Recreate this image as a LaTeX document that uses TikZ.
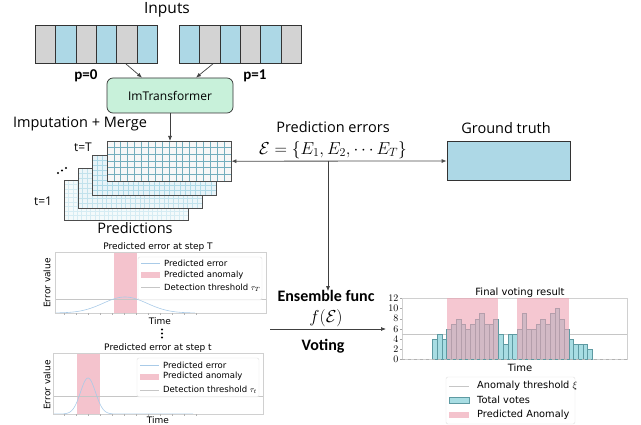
\documentclass[tikz,border=0pt]{standalone}
\usepackage{fontspec}
\setmainfont{Open Sans}
\newfontfamily\calfont{Carlito}
\newfontfamily\plotfont{DejaVu Sans}
\usepackage{amsmath}
\usepackage{amssymb}
\usetikzlibrary{positioning,arrows.meta}

\definecolor{cellgray}{HTML}{D3D3D3}
\definecolor{cellblue}{HTML}{ADD8E6}
\definecolor{mint}{HTML}{C8F1DA}
\definecolor{gridteal}{HTML}{74AEBD}
\definecolor{anompink}{HTML}{F4C3CD}
\definecolor{overpink}{HTML}{EEA2B2}
\definecolor{errblue}{HTML}{A9CBE8}
\definecolor{voteteal}{HTML}{A8DDE3}
\definecolor{voteedge}{HTML}{5E9AA2}
\definecolor{framegray}{HTML}{D0D0D0}

\newcommand{\pxfont}[1]{\fontsize{#1}{#1}\selectfont}

% one layer of the prediction stack: x0, y0, fill, grid colour, columns, rows
\newcommand{\predlayer}[6]{%
  \begin{scope}[shift={(#1,#2)}]
    \fill[#3] (0,0) rectangle (124,40);
    \foreach \i in {1,...,#5} \draw[#4, line width=0.6pt] ({\i*124/#5},0) -- ({\i*124/#5},40);
    \foreach \j in {1,...,#6} \draw[#4, line width=0.6pt] (0,{\j*40/#6}) -- (124,{\j*40/#6});
    \draw[black!70, line width=0.7pt] (0,0) rectangle (124,40);
  \end{scope}}

\begin{document}
\begin{tikzpicture}[x=1pt,y=-1pt,
    lbl/.style={font=\pxfont{14.5}},
    boldlbl/.style={font=\calfont\bfseries\pxfont{16}},
    cell/.style={draw=black!80, line width=0.7pt, minimum width=20.33pt, minimum height=38pt, inner sep=0pt, anchor=north west},
    arr/.style={-{Latex[length=5pt,width=4pt]}, black!75, line width=0.7pt},
    ptxt/.style={font=\plotfont\pxfont{9}},
    ltxt/.style={font=\plotfont\pxfont{8.5}, anchor=west, inner sep=0pt},
    vtxt/.style={font=\plotfont\pxfont{9.8}, anchor=west, inner sep=0pt},
    plotframe/.style={draw=framegray, line width=0.5pt},
    legbox/.style={draw=gray!25, fill=white, fill opacity=0.8, rounded corners=2pt, line width=0.4pt},
    votebar/.style={fill=voteteal, draw=voteedge, line width=0.4pt}]
  \useasboundingbox (0,0) rectangle (641,425);

  % inputs
  \node[font=\pxfont{15.5}] (inputs) at (167,10) {Inputs};
  \foreach \c [count=\i from 0] in {cellgray,cellblue,cellgray,cellblue,cellgray,cellblue}
    \node[cell, fill=\c] at ({35+\i*20.33},25) {};
  \foreach \c [count=\i from 0] in {cellblue,cellgray,cellblue,cellgray,cellblue,cellgray}
    \node[cell, fill=\c] at ({179+\i*20.33},25) {};
  \node[draw=black!80, line width=0.8pt, minimum width=122pt, minimum height=38pt, inner sep=0pt, anchor=north west] (inL) at (35,25) {};
  \node[draw=black!80, line width=0.8pt, minimum width=122pt, minimum height=38pt, inner sep=0pt, anchor=north west] (inR) at (179,25) {};
  \node[font=\calfont\bfseries\pxfont{15}] (pzero) at (86,76) {p=0};
  \node[font=\calfont\bfseries\pxfont{15}] (pone) at (255,76) {p=1};

  \node[draw=black!80, line width=0.7pt, fill=mint, rounded corners=6pt, minimum width=126pt, minimum height=35pt, font=\pxfont{12}] (imt) at (170,95.5) {ImTransformer};
  \draw[arr] ([xshift=-32pt]inL.south east) -- ([xshift=-28pt]imt.north);
  \draw[arr] ([xshift=34pt]inR.south west) -- ([xshift=26pt]imt.north);

  % prediction stack
  \node[lbl] (merge) at (80,124) {Imputation + Merge};
  \predlayer{64}{180}{cellblue!14}{cellblue!50}{28}{9}
  \predlayer{78}{168}{cellblue!22}{cellblue!75}{26}{8}
  \predlayer{92}{155}{cellblue!30}{cellblue}{24}{8}
  \predlayer{107}{141}{gray!6}{gridteal}{18}{6}
  \node[minimum width=124pt, minimum height=40pt, inner sep=0pt, anchor=north west] (predT) at (107,141) {};
  \node[font=\pxfont{12}] (tT) at (83,147) {t=T};
  \node[font=\pxfont{12}] (tone) at (43,201) {t=1};
  \foreach \px/\py in {58/173, 62/170.5, 66/168}
    \fill (\px,\py) circle (1.1pt);
  \node[font=\pxfont{14.5}] (preds) at (135,228) {Predictions};
  \draw[arr] (imt.south) -- (imt.south |- predT.north);

  % errors and ground truth
  \node[lbl] (errlbl) at (333,127) {Prediction errors};
  \node[font=\pxfont{17}] (errset) at (333,150) {$\mathcal{E}=\{E_1,E_2,\cdots E_T\}$};
  \node[draw=black!80, line width=0.7pt, fill=cellblue, minimum width=123pt, minimum height=39pt] (gt) at (508.5,161) {};
  \node[lbl] (gtlbl) at (506,128) {Ground truth};
  \draw[{Latex[length=5pt,width=4pt]}-{Latex[length=5pt,width=4pt]}, black!70, line width=0.8pt] (predT.east) -- (gt.west);
  \coordinate (split) at (328,161);
  \node[boldlbl, inner sep=1pt] (ens) at (326,296) {Ensemble func};
  \draw[arr] (split) -- ([yshift=-2pt]split |- ens.north);
  \node[font=\pxfont{18}, inner sep=0pt] (fE) at (326,318) {$f(\mathcal{E})$};
  \coordinate (vstart) at (270,329);
  \coordinate (vend) at (386,329);
  \draw[arr] (vstart) -- (vend);
  \node[boldlbl, inner sep=1pt] (vote) at (323,346) {Voting};

  % predicted error at step T
  \node[ptxt] (titleT) at (158,247) {Predicted error at step T};
  \fill[anompink] (114,252) rectangle (137,313);
  \draw[gray!45, line width=0.4pt] (55,299) -- (266,299);
  \draw[errblue, line width=0.6pt] plot[domain=55:195, samples=80] (\x,{313-16*exp(-((\x-125)^2)/(2*22^2))});
  \draw[plotframe] (55,252) rectangle (266,313);
  \foreach \tx in {64,76,88,100,112,124,136,148,160,172,184,196}
    \draw[gray!60, line width=0.3pt] (\tx,313) -- (\tx,315);
  \draw[legbox] (138,257) rectangle (262,300);
  \draw[errblue, line width=0.6pt] (141,263) -- (160,263);
  \fill[anompink] (141,272) rectangle (160,278);
  \draw[gray!45, line width=0.4pt] (141,287.5) -- (160,287.5);
  \node[ltxt] at (164,263) {Predicted error};
  \node[ltxt] at (164,275) {Predicted anomaly};
  \node[ltxt] at (164,287.5) {Detection threshold $\tau_T$};
  \node[ptxt, rotate=90] (evT) at (47,283) {Error value};
  \node[ptxt] (timeT) at (160,321) {Time};

  \foreach \py in {329.5,333.5,337.5}
    \fill (162,\py) circle (1.1pt);

  % predicted error at step t
  \node[ptxt] (titlet) at (158,348.5) {Predicted error at step t};
  \fill[anompink] (77,353) rectangle (100,414);
  \draw[gray!45, line width=0.4pt] (53,396) -- (263,396);
  \draw[errblue, line width=0.6pt] plot[domain=53:193, samples=140] (\x,{414-36*exp(-((\x-88)^2)/(2*7.5^2))});
  \draw[plotframe] (53,353) rectangle (263,414);
  \foreach \tx in {64,76,88,100,112,124,136,148,160,172,184,196}
    \draw[gray!60, line width=0.3pt] (\tx,414) -- (\tx,416);
  \draw[legbox] (137,358) rectangle (259,397);
  \draw[errblue, line width=0.6pt] (140,365) -- (159,365);
  \fill[anompink] (140,373.5) rectangle (159,379.5);
  \draw[gray!45, line width=0.4pt] (140,390) -- (159,390);
  \node[ltxt] at (163,365) {Predicted error};
  \node[ltxt] at (163,376.5) {Predicted anomaly};
  \node[ltxt] at (163,390) {Detection threshold $\tau_t$};
  \node[ptxt, rotate=90] (evt) at (47,385) {Error value};
  \node[ptxt] (timet) at (158,420) {Time};

  % final voting result
  \node[font=\plotfont\pxfont{10}] (titleV) at (520,293) {Final voting result};
  \draw[plotframe] (402,298.5) rectangle (627,359.3);
  \foreach \v in {0,2,...,12} {
    \draw[gray!70, line width=0.4pt] (400,{359.3-5.07*\v}) -- (402,{359.3-5.07*\v});
    \node[font=\pxfont{10}, anchor=east, inner sep=1pt] at (399.5,{359.3-5.07*\v}) {$\v$};
  }
  \draw[gray!45, line width=0.4pt] (402,334) -- (627,334);
  \foreach \v [count=\i] in {4,5,4,6,7,8,7,6,7,8,9,7,7,8,5,3,5,5,6,9,6,6,7,8,7,9,10,8,6,4,3,3,3,2}
    \draw[votebar] ({432.5+(\i-1)*4.7},359.3) rectangle ++(4.7,{-5.07*\v});
  \fill[overpink, opacity=0.6] (446.6,298.5) rectangle (498.3,359.3);
  \fill[overpink, opacity=0.6] (517.1,298.5) rectangle (568.8,359.3);
  \draw[gray!60, dashed, line width=0.4pt] (402,359.3) -- (627,359.3);
  \node[font=\plotfont\pxfont{10}] (timeV) at (520,367.5) {Time};
  \draw[legbox] (446,377) rectangle (575,424);
  \draw[gray!45, line width=0.4pt] (449,386) -- (469,386);
  \draw[votebar] (449,397) rectangle (469,403);
  \fill[anompink] (449,411.5) rectangle (469,417.5);
  \node[vtxt] at (477,386) {Anomaly threshold $\xi$};
  \node[vtxt] at (477,400) {Total votes};
  \node[vtxt] at (477,414.5) {Predicted Anomaly};
\end{tikzpicture}
\end{document}
